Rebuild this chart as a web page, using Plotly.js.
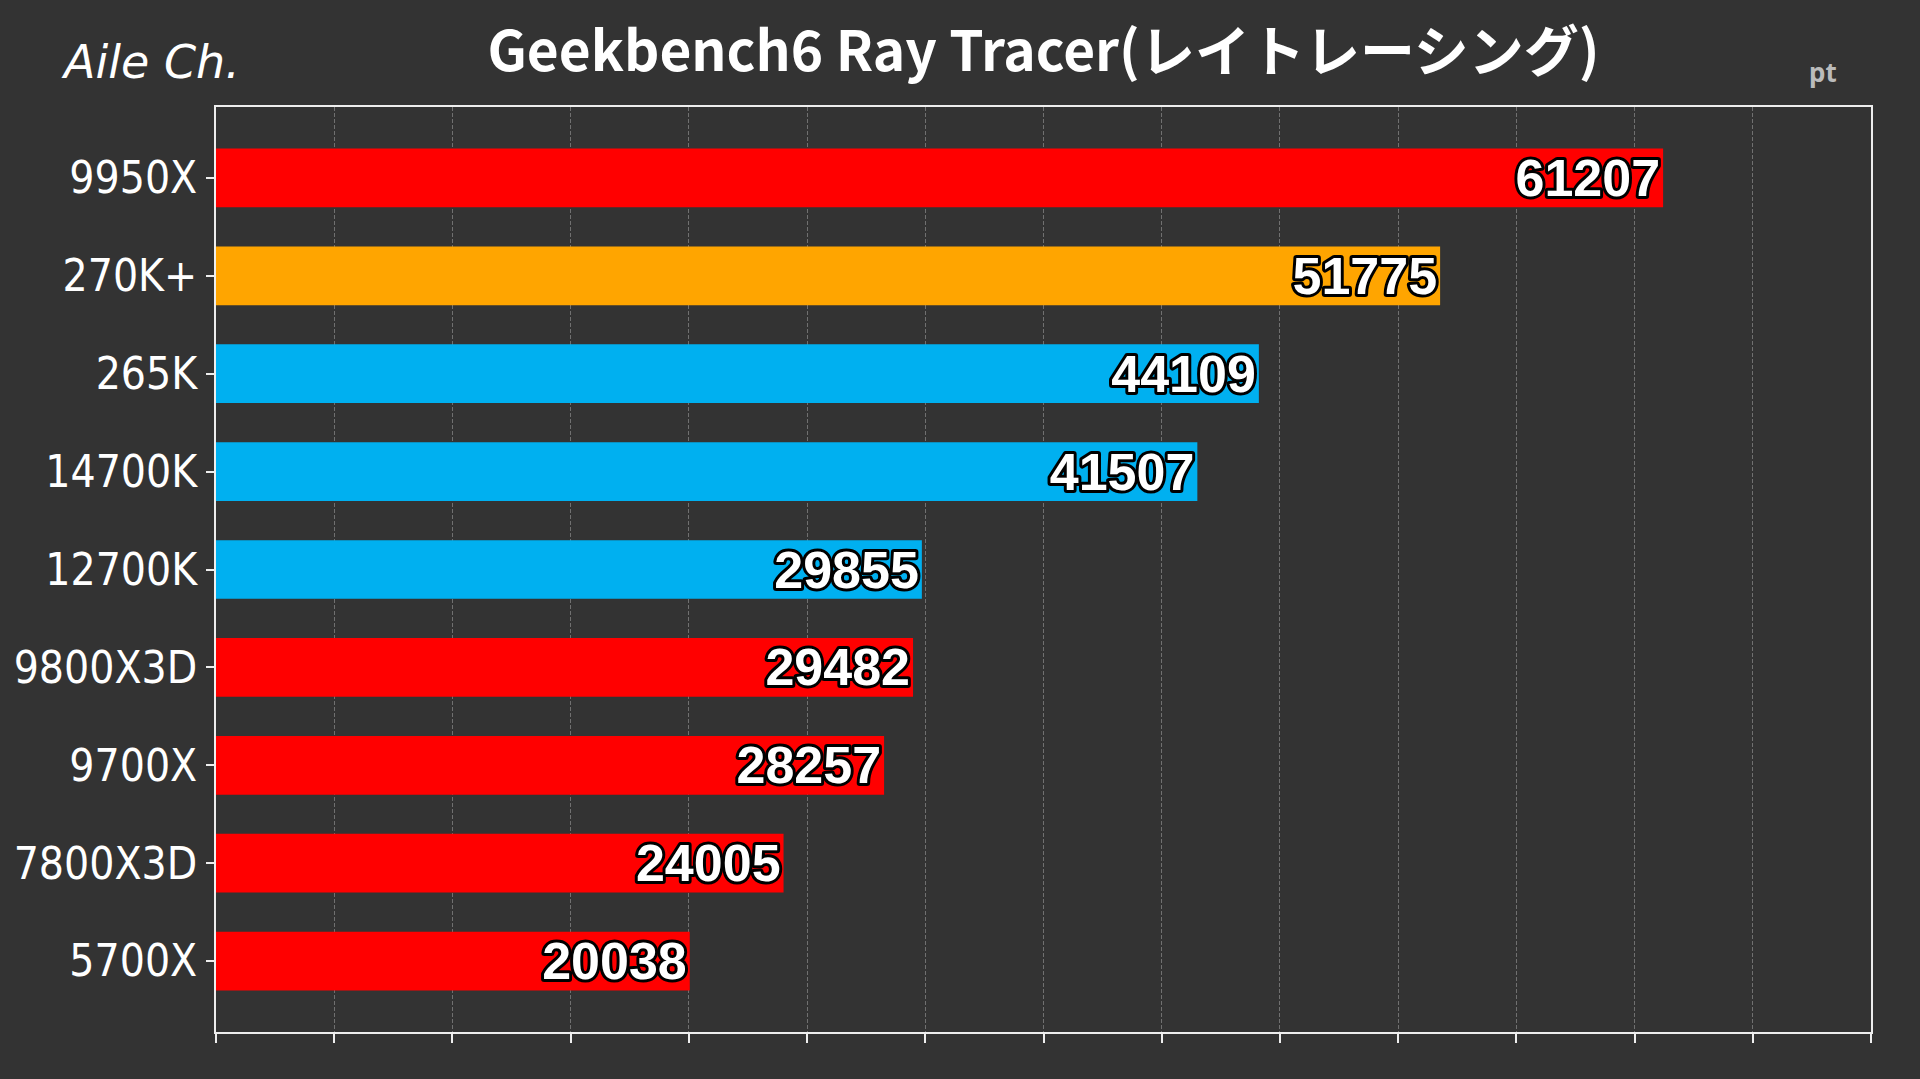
<!DOCTYPE html>
<html>
<head>
<meta charset="utf-8">
<script src="https://cdn.plot.ly/plotly-3.0.1.min.js"></script>
<style>
  html, body { margin: 0; padding: 0; background: #333333; }
  #chart { width: 1920px; height: 1079px; }
  /* outlined value labels */
  #chart text.bartext {
    paint-order: stroke fill !important;
    stroke: #000000 !important;
    stroke-width: 6px !important;
    stroke-linejoin: round !important;
  }
</style>
</head>
<body>
<div id="chart"></div>
<script>
const cpus = ["9950X", "270K+", "265K", "14700K", "12700K", "9800X3D", "9700X", "7800X3D", "5700X"];
const scores = [61207, 51775, 44109, 41507, 29855, 29482, 28257, 24005, 20038];
const barColors = ["#ff0000", "#ffa500", "#00b0f0", "#00b0f0", "#00b0f0", "#ff0000", "#ff0000", "#ff0000", "#ff0000"];

const trace = {
    type: "bar",
    orientation: "h",
    y: cpus,
    x: scores,
    width: 0.6,
    marker: {color: barColors, line: {width: 0}},
    text: scores.map(String),
    textposition: "inside",
    insidetextanchor: "end",
    constraintext: "none",
    textfont: {family: "Liberation Sans, sans-serif", size: 52, weight: 700, color: "#ffffff"},
    hoverinfo: "none"
};

const W = 1920, H = 1079;
const margin = {l: 216, r: 49, t: 107, b: 47};

// place a label at pixel position of the page
function pagePos(px, py) {
    return {
        x: (px - margin.l) / (W - margin.l - margin.r),
        y: (H - py - margin.b) / (H - margin.t - margin.b)
    };
}

const logoPos = pagePos(59, 62);
const unitPos = pagePos(1823, 72);

const layout = {
    width: W,
    height: H,
    paper_bgcolor: "#333333",
    plot_bgcolor: "#333333",
    margin: margin,
    showlegend: false,
    title: {
        text: "Geekbench6 Ray Tracer(レイトレーシング)",
        font: {family: "Noto Sans CJK JP", size: 55, weight: 700, color: "#ffffff"},
        x: 0.5, xref: "paper",
        y: 0.952, yref: "container", yanchor: "middle"
    },
    xaxis: {
        range: [0, 70000],
        dtick: 5000,
        showticklabels: false,
        showgrid: true,
        gridcolor: "#707070",
        griddash: "4px,2px",
        gridwidth: 1,
        zeroline: false,
        showline: true,
        linecolor: "#eeeeee",
        linewidth: 2,
        mirror: true,
        ticks: "outside",
        ticklen: 9,
        tickwidth: 2,
        tickcolor: "#eeeeee",
        fixedrange: true
    },
    yaxis: {
        type: "category",
        autorange: false,
        range: [8.725, -0.725],
        showgrid: false,
        showline: true,
        linecolor: "#eeeeee",
        linewidth: 2,
        mirror: true,
        ticks: "outside",
        ticklen: 8,
        tickwidth: 2,
        tickcolor: "#eeeeee",
        ticklabelstandoff: 0,
        tickfont: {family: "DejaVu Sans Condensed, sans-serif", size: 44, color: "#ffffff"},
        fixedrange: true
    },
    annotations: [
        {
            text: "Aile Ch.",
            xref: "paper", yref: "paper",
            x: logoPos.x, y: logoPos.y,
            xanchor: "left", yanchor: "middle",
            showarrow: false,
            font: {family: "DejaVu Sans", size: 46, weight: 200, style: "italic", color: "#ffffff"}
        },
        {
            text: "pt",
            xref: "paper", yref: "paper",
            x: unitPos.x, y: unitPos.y,
            xanchor: "center", yanchor: "middle",
            showarrow: false,
            font: {family: "Noto Sans", size: 26, weight: 700, color: "#bbbbbb"}
        }
    ]
};

Plotly.newPlot("chart", [trace], layout, {displayModeBar: false, staticPlot: true});
</script>
</body>
</html>
